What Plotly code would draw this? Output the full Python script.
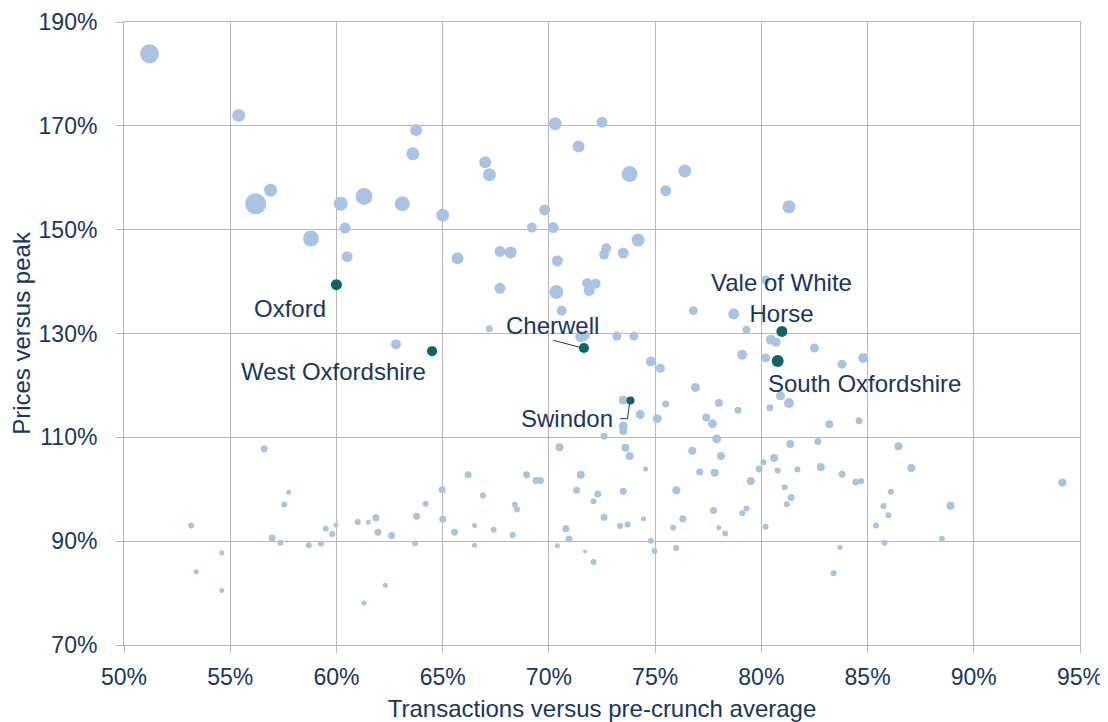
import plotly.graph_objects as go

# all local authorities: transactions vs pre-crunch avg (%), prices vs peak (%), bubble size
other_x = [
    51.2, 55.4, 63.75, 63.6, 56.9, 56.2, 60.2, 61.3, 63.1, 65.0, 60.4, 58.8, 60.5, 65.7,
    67.0, 67.2, 70.3, 72.5, 71.4, 73.8, 75.5, 76.4, 81.3, 69.8, 69.2, 70.2, 74.2,
    67.7, 68.2, 70.4, 72.7, 72.6, 73.5, 67.7, 70.35, 71.8, 72.2, 71.9, 70.6, 67.2,
    71.5, 71.7, 73.2, 74.0, 76.8, 78.7, 80.2, 79.3, 80.45, 80.7, 79.1, 80.2, 82.5,
    83.8, 84.8, 74.8, 75.25, 76.9, 80.9, 81.3, 80.4, 78.0, 78.9, 75.5, 74.3, 75.1,
    73.5, 77.4, 77.7, 83.2, 84.6, 73.5, 73.5, 72.6, 77.9, 62.8,
    70.5, 73.6, 73.8, 76.75, 78.1, 74.55, 77.1, 77.8, 79.9, 79.5, 66.2, 68.95, 69.4,
    69.6, 71.5, 66.9, 68.4, 68.5, 71.3, 72.3, 72.1, 73.5, 76.0, 72.6, 73.35, 73.7,
    74.45, 76.3, 75.85, 77.75, 79.1, 79.3, 78.0, 78.3, 66.5, 67.4, 68.3, 66.5, 70.8,
    70.95, 70.4, 71.7, 72.1, 74.8, 74.97, 75.99,
    56.6, 57.75, 57.55, 53.16, 54.6, 53.4, 54.6, 56.97, 57.36, 58.7, 59.27, 59.5,
    59.8, 59.97, 61.0, 61.5, 61.86, 61.95, 62.6, 63.7, 63.77, 64.2, 64.98, 65.0,
    65.56, 62.3, 61.3,
    81.36, 82.66, 86.45, 80.6, 80.1, 80.77, 81.7, 82.8, 87.06, 83.8, 84.45, 84.7,
    94.17, 81.1, 86.1, 81.4, 81.2, 85.75, 85.98, 88.9, 80.2, 85.4, 85.8, 88.5, 83.7, 83.4,
]
other_y = [
    183.9, 172.0, 169.2, 164.6, 157.6, 155.0, 155.0, 156.4, 155.0, 152.8, 150.3, 148.3, 144.8, 144.5,
    163.0, 160.6, 170.4, 170.7, 166.0, 160.7, 157.5, 161.3, 154.4, 153.8, 150.4, 150.4, 148.0,
    145.8, 145.6, 144.0, 146.4, 145.2, 145.5, 138.7, 138.0, 139.7, 139.6, 138.3, 134.4, 130.9,
    129.4, 129.6, 129.5, 129.5, 134.4, 133.8, 140.3, 130.7, 128.8, 128.3, 125.9, 125.3, 127.2,
    124.1, 125.3, 124.6, 123.3, 119.6, 118.0, 116.6, 115.7, 116.6, 115.2, 116.4, 114.4, 113.6,
    117.2, 113.8, 112.6, 112.5, 113.2, 112.2, 111.2, 110.2, 109.7, 127.9,
    108.1, 108.0, 106.4, 107.4, 106.4, 103.9, 103.3, 103.2, 103.9, 101.6, 102.8, 102.8, 101.7,
    101.7, 102.8, 98.8, 97.0, 96.1, 99.8, 99.1, 97.7, 99.6, 99.8, 94.6, 92.9, 93.2,
    94.3, 94.3, 92.6, 95.9, 95.4, 96.3, 92.6, 91.5, 93.0, 92.2, 91.2, 89.2, 92.4,
    90.4, 89.1, 88.0, 86.0, 90.1, 88.1, 88.7,
    107.8, 99.4, 97.05, 93.0, 87.7, 84.1, 80.5, 90.6, 89.7, 89.2, 89.55, 92.4,
    91.4, 93.1, 93.7, 93.65, 94.5, 91.7, 91.1, 89.6, 94.8, 97.2, 99.9, 94.2,
    91.7, 81.5, 78.1,
    108.7, 109.2, 108.3, 106.0, 105.2, 103.6, 103.8, 104.3, 104.1, 102.9, 101.4, 101.6,
    101.3, 100.4, 99.5, 98.4, 97.1, 96.75, 95.0, 96.8, 92.8, 93.0, 89.7, 90.45, 88.8, 83.8,
]
other_size = [
    19, 13, 12, 13, 13, 21, 14, 17, 15, 13, 11, 16, 11, 12,
    12, 13, 13, 11, 12, 16, 11, 13, 13, 11, 10, 11, 13,
    11, 12, 11, 10, 10, 11, 11, 14, 10, 10, 11, 10, 7,
    11, 10, 9, 9, 9, 11, 9, 8, 10, 9, 10, 9, 9,
    9, 10, 10, 9, 9, 9, 10, 7, 8, 7, 7, 9, 9,
    9, 8, 9, 8, 7, 9, 8, 7, 9, 10,
    8, 8, 8, 8, 8, 5, 7, 8, 7, 8, 7, 7, 7,
    7, 8, 6, 6, 6, 7, 7, 6, 7, 8, 7, 6, 6,
    5, 7, 6, 7, 6, 6, 5, 6, 5, 6, 6, 5, 7,
    7, 5, 4, 6, 6, 6, 6,
    7, 5, 6, 6, 5, 5, 5, 7, 6, 6, 6, 6,
    6, 5, 6, 5, 7, 7, 7, 6, 7, 6, 7, 7,
    7, 5, 5,
    8, 7, 8, 8, 6, 6, 6, 8, 8, 7, 7, 6,
    8, 6, 6, 7, 6, 6, 6, 8, 6, 6, 6, 6, 5, 6,
]

# highlighted Oxfordshire-area districts
names = ["Oxford", "West Oxfordshire", "Cherwell", "Swindon", "Vale of White Horse", "South Oxfordshire"]
hl_x = [60.0, 64.5, 71.65, 73.84, 80.97, 80.77]
hl_y = [139.4, 126.6, 127.2, 117.1, 130.4, 124.7]
hl_size = [11, 10, 10, 8, 11, 12]

light = "#a9c4e3"
teal = "#0b6565"
navy = "#17375e"
grid = "#b8b8bc"

fig = go.Figure()
fig.add_trace(go.Scatter(x=other_x, y=other_y, mode="markers",
                         marker=dict(size=other_size, color=light, opacity=1, line=dict(width=0)),
                         hoverinfo="skip"))
fig.add_trace(go.Scatter(x=hl_x, y=hl_y, mode="markers", text=names,
                         marker=dict(size=hl_size, color=teal, opacity=1, line=dict(width=0)),
                         hoverinfo="text"))

label_font = dict(family="Liberation Sans, Arial, sans-serif", size=24, color=navy)
# (text, x, y, anchor)
labels = [
    ("Oxford", 57.8, 134.8, "center"),
    ("West Oxfordshire", 59.86, 122.65, "center"),
    ("Cherwell", 70.16, 131.6, "center"),
    ("Swindon", 70.86, 113.6, "center"),
    ("Vale of White<br>Horse", 80.97, 136.9, "center"),
    ("South Oxfordshire", 80.23, 120.35, "left"),
]
for txt, lx, ly, anc in labels:
    fig.add_annotation(x=lx, y=ly, text=txt, showarrow=False, xanchor=anc,
                       yanchor="middle", font=label_font)

# leader lines
fig.add_shape(type="line", x0=70.2, y0=128.7, x1=71.45, y1=127.35,
              line=dict(color=navy, width=1))
fig.add_shape(type="line", x0=73.8, y0=116.6, x1=73.7, y1=113.6,
              line=dict(color=navy, width=1))
fig.add_shape(type="line", x0=73.7, y0=113.6, x1=73.35, y1=113.6,
              line=dict(color=navy, width=1))

tick_font = dict(family="Liberation Sans, Arial, sans-serif", size=23, color=navy)
title_font = dict(family="Liberation Sans, Arial, sans-serif", size=24, color=navy)
fig.update_xaxes(range=[50, 95], tick0=50, dtick=5, ticksuffix="%",
                 showgrid=True, gridcolor=grid, gridwidth=1,
                 showline=True, linecolor=grid, mirror=True,
                 ticks="outside", ticklen=7, tickcolor=grid, ticklabelstandoff=4,
                 zeroline=False, tickfont=tick_font, automargin=False,
                 title=dict(text="Transactions versus pre-crunch average",
                            font=title_font, standoff=11))
fig.update_yaxes(range=[70, 190], tick0=70, dtick=20, ticksuffix="%",
                 showgrid=True, gridcolor=grid, gridwidth=1,
                 showline=True, linecolor=grid, mirror=True,
                 ticks="outside", ticklen=7, tickcolor=grid, ticklabelstandoff=14,
                 zeroline=False, tickfont=tick_font, automargin=False,
                 title=dict(text="Prices versus peak", font=title_font, standoff=6))
# page body adds ~8px offset, so the figure is sized to sit inside the window
fig.update_layout(width=1100, height=714, showlegend=False,
                  plot_bgcolor="white", paper_bgcolor="white",
                  margin=dict(l=116, r=28, t=14, b=77))

fig.write_html("out.html")
